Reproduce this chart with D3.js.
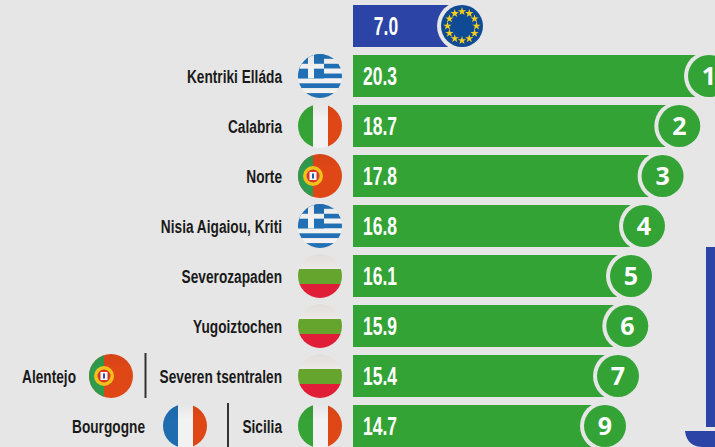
<!DOCTYPE html>
<html>
<head>
<meta charset="utf-8">
<script src="https://cdn.jsdelivr.net/npm/d3@7"></script>
<style>
  html, body { margin: 0; padding: 0; background: #e6e6e6; overflow: hidden; }
  text { font-family: "Liberation Sans", sans-serif; font-weight: bold; }
</style>
</head>
<body>
<div id="chart"></div>
<script>
const regions = ['Kentriki Elláda', 'Calabria', 'Norte', 'Nisia Aigaiou, Kriti', 'Severozapaden', 'Yugoiztochen', 'Severen tsentralen', 'Sicilia'];
const flags = ['gr', 'it', 'pt', 'gr', 'bg', 'bg', 'bg', 'it'];
const values = [20.3, 18.7, 17.8, 16.8, 16.1, 15.9, 15.4, 14.7];
const ranks = [1, 2, 3, 4, 5, 6, 7, 9];
const tiedRegions = ['', '', '', '', '', '', 'Alentejo', 'Bourgogne'];
const tiedFlags = ['', '', '', '', '', '', 'pt', 'fr'];
const euValue = 7.0;

const svgWidth = 715;
const svgHeight = 447;
const barLeft = 353;
const radius = 22;
const green = '#33a336';
const blue = '#2b44a6';
const bg = '#e6e6e6';

const svg = d3.select('#chart')
    .append('svg')
    .attr('width', svgWidth)
    .attr('height', svgHeight);

const defs = svg.append('defs');

// sheen over the flags, the white parts go slightly grey at the edges
const sheen = defs.append('linearGradient').attr('id', 'sheen').attr('x1', 0).attr('x2', 0).attr('y1', 0).attr('y2', 1);
sheen.append('stop').attr('offset', '0%').attr('stop-color', '#000').attr('stop-opacity', 0.05);
sheen.append('stop').attr('offset', '35%').attr('stop-color', '#000').attr('stop-opacity', 0);

defs.append('clipPath').attr('id', 'disc')
    .append('circle').attr('r', radius);

const yScale = d3.scaleBand()
    .domain(d3.range(-1, regions.length))
    .range([5, 447])
    .paddingInner(0.16);

// circle centres sit at the bar end, value 0 falls left of the bar start
const xScale = d3.scaleLinear()
    .domain([0, 20.3])
    .range([332, 709]);

const midY = i => yScale(i) + yScale.bandwidth() / 2;

// no condensed face is installed, so squeeze the bold one
const squeeze = (x, y, s) => 'translate(' + x + ',' + y + ') scale(' + s + ',1)';

function drawFlag(g, code) {
    const body = g.append('g').attr('clip-path', 'url(#disc)');
    const band = (x, y, w, h, c) => body.append('rect').attr('x', x).attr('y', y).attr('width', w).attr('height', h).attr('fill', c);
    if (code === 'gr') {
        const s = radius * 2 / 9;
        d3.range(9).forEach(k => band(-radius, -radius + k * s, radius * 2, s, k % 2 ? '#f2f2f2' : '#2170b5'));
        band(-radius, -radius, 26, s * 5, '#2170b5');
        band(-12, -radius, 6, s * 5, '#f2f2f2');
        band(-radius, -radius + s * 2, 26, s, '#f2f2f2');
    } else if (code === 'it') {
        band(-radius, -radius, 15, radius * 2, '#36a336');
        band(-7, -radius, 15, radius * 2, '#f2f2f2');
        band(8, -radius, 14, radius * 2, '#e04717');
    } else if (code === 'fr') {
        band(-radius, -radius, 15, radius * 2, '#1f6cb0');
        band(-7, -radius, 15, radius * 2, '#f2f2f2');
        band(8, -radius, 14, radius * 2, '#e04717');
    } else if (code === 'bg') {
        band(-radius, -radius, radius * 2, 15, '#ece9e6');
        band(-radius, -7, radius * 2, 15, '#66a52d');
        band(-radius, 8, radius * 2, 14, '#e01e37');
    } else if (code === 'pt') {
        band(-radius, -radius, 44, 44, '#e04717');
        band(-radius, -radius, 15, 44, '#2e9b4e');
        body.append('circle').attr('cx', -7).attr('r', 10).attr('fill', '#f2c21a');
        body.append('circle').attr('cx', -7).attr('r', 6.5).attr('fill', '#d8382a');
        band(-10.5, -4, 7, 8, '#f5f5f5');
        band(-8, -2.5, 2, 5, '#2b55a8');
    }
    body.append('rect').attr('x', -radius).attr('y', -radius)
        .attr('width', radius * 2).attr('height', radius * 2)
        .attr('fill', 'url(#sheen)');
}

// EU bar on the top row
svg.append('rect')
    .attr('x', barLeft)
    .attr('y', yScale(-1))
    .attr('width', xScale(euValue) - barLeft)
    .attr('height', yScale.bandwidth())
    .attr('fill', blue);

svg.append('text')
    .attr('transform', squeeze(386, midY(-1) + 8.5, 0.7))
    .attr('text-anchor', 'middle')
    .attr('fill', '#fff')
    .style('font-size', '25px')
    .text(euValue.toFixed(1));

const eu = svg.append('g')
    .attr('transform', 'translate(' + xScale(euValue) + ',' + midY(-1) + ')');
eu.append('circle').attr('r', radius + 3).attr('fill', bg);
eu.append('circle').attr('r', radius - 1).attr('fill', '#0f4a94');
eu.selectAll('.star')
    .data(d3.range(12))
    .enter().append('path')
    .attr('class', 'star')
    .attr('d', d3.symbol(d3.symbolStar, 22))
    .attr('fill', '#f5cf1d')
    .attr('transform', d => {
        const a = d * Math.PI / 6;
        return 'translate(' + (14.5 * Math.sin(a)) + ',' + (-14.5 * Math.cos(a)) + ')';
    });

// green bars
svg.selectAll('.bar')
    .data(values)
    .enter().append('rect')
    .attr('class', 'bar')
    .attr('x', barLeft)
    .attr('y', (d, i) => yScale(i))
    .attr('width', d => xScale(d) - barLeft)
    .attr('height', yScale.bandwidth())
    .attr('fill', green);

svg.selectAll('.value')
    .data(values)
    .enter().append('text')
    .attr('class', 'value')
    .attr('transform', (d, i) => squeeze(380, midY(i) + 8.5, 0.7))
    .attr('text-anchor', 'middle')
    .attr('fill', '#fff')
    .style('font-size', '25px')
    .text(d => d.toFixed(1));

// rank badges
const badge = svg.selectAll('.badge')
    .data(values)
    .enter().append('g')
    .attr('class', 'badge')
    .attr('transform', (d, i) => 'translate(' + xScale(d) + ',' + midY(i) + ')');

badge.append('circle').attr('r', radius + 3).attr('fill', bg);
badge.append('circle').attr('r', radius - 1).attr('fill', green);
badge.append('text')
    .attr('y', 9)
    .attr('text-anchor', 'middle')
    .attr('fill', '#fff')
    .style('font-family', '"Open Sans", sans-serif')
    .style('font-size', '25px')
    .text((d, i) => ranks[i]);

// region names and flags
svg.selectAll('.region')
    .data(regions)
    .enter().append('text')
    .attr('class', 'region')
    .attr('transform', (d, i) => squeeze(282, midY(i) + 6.5, 0.74))
    .attr('text-anchor', 'end')
    .attr('fill', '#1a1a1a')
    .style('font-size', '18.5px')
    .text(d => d);

flags.forEach((code, i) => {
    drawFlag(svg.append('g').attr('transform', 'translate(320,' + midY(i) + ')'), code);
});

// second region on the tied rows
const tiedFlagX = { pt: 111, fr: 185 };
const tiedLabelX = { pt: 76, fr: 145 };
const tiedRuleX = { pt: 145.5, fr: 228 };

tiedRegions.forEach((name, i) => {
    if (!name) return;
    const code = tiedFlags[i];
    svg.append('text')
        .attr('transform', squeeze(tiedLabelX[code], midY(i) + 6.5, 0.74))
        .attr('text-anchor', 'end')
        .attr('fill', '#1a1a1a')
        .style('font-size', '18.5px')
        .text(name);
    drawFlag(svg.append('g').attr('transform', 'translate(' + tiedFlagX[code] + ',' + midY(i) + ')'), code);
    svg.append('line')
        .attr('x1', tiedRuleX[code])
        .attr('x2', tiedRuleX[code])
        .attr('y1', yScale(i) - 2)
        .attr('y2', yScale(i) + yScale.bandwidth() + 1)
        .attr('stroke', '#333')
        .attr('stroke-width', 2);
});

// blue shape cut off at the right edge of the picture
svg.append('rect')
    .attr('x', 706)
    .attr('y', 247)
    .attr('width', 9)
    .attr('height', 180)
    .attr('fill', blue);

svg.append('path')
    .attr('d', 'M685,431H715V447H703Q687,447 685,431Z')
    .attr('fill', blue);
</script>
</body>
</html>
